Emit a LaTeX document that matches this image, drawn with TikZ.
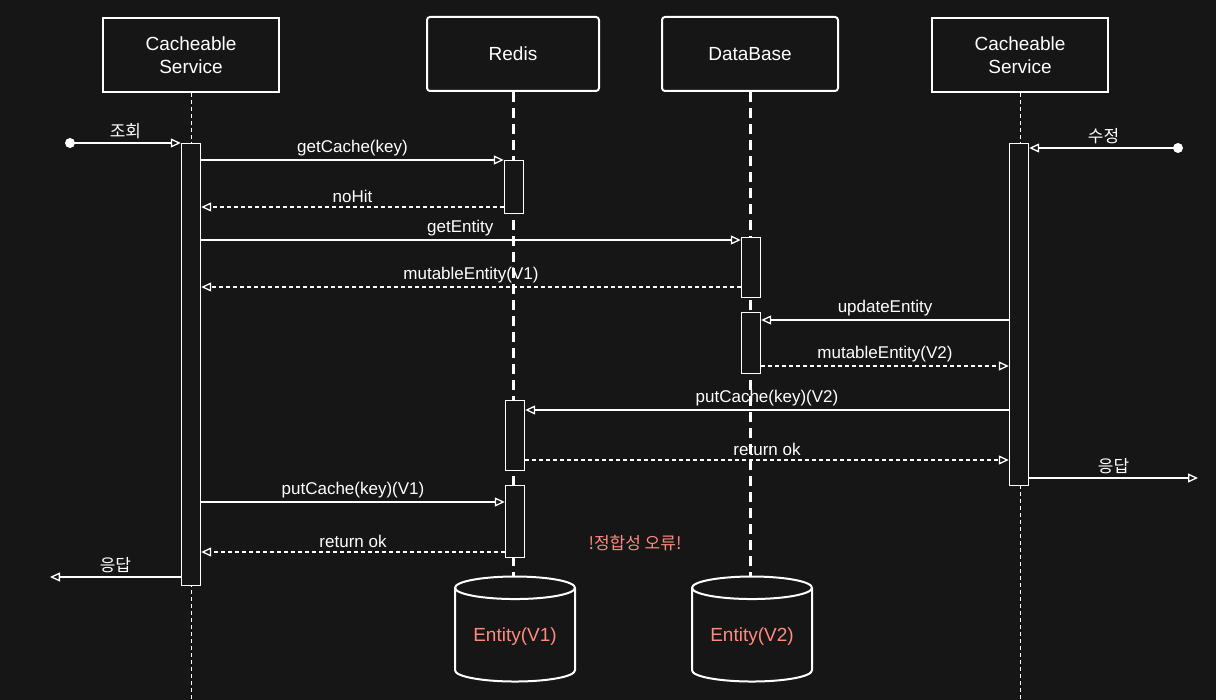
\documentclass[tikz,border=0pt]{standalone}
\usepackage{fontspec}
\setmainfont{Liberation Sans}
\newfontfamily\kr{Noto Sans CJK KR}
\usetikzlibrary{arrows.meta,shapes.geometric}
\definecolor{bg}{HTML}{161616}
\definecolor{warn}{HTML}{FF8A80}
\tikzset{
  head/.style={draw, line width=2pt, minimum width=176pt, minimum height=74pt, align=center, font=\fontsize{19}{23}\selectfont},
  act/.style={draw, line width=1.4pt, minimum width=19pt, anchor=north},
  msg/.style={line width=1.3pt, -{Triangle[open, length=10pt, width=9pt]}},
  ret/.style={msg, dash pattern=on 4pt off 3pt},
  lbl/.style={font=\fontsize{17}{20}\selectfont},
  db/.style={draw, cylinder, shape border rotate=90, aspect=0.25, line width=2pt, minimum width=120pt, minimum height=105pt, text=warn, font=\fontsize{19}{22}\selectfont}
}
\begin{document}
\begin{tikzpicture}[x=1pt, y=-1pt, white]
\fill[bg] (0,0) rectangle (1216,700);
\useasboundingbox (0,0) rectangle (1216,700);
% Heads
	\node[head] (svcA) at (191,55) {Cacheable\\Service};
	\node[head, minimum width=172pt, rounded corners=3pt] (redis) at (513,54) {Redis};
	\node[head, rounded corners=3pt] (dbase) at (750,54) {DataBase};
	\node[head] (svcB) at (1020,55) {Cacheable\\Service};
% Stores
	\node[db] (store1) at (515,637) {Entity(V1)};
	\node[db] (store2) at (752,637) {Entity(V2)};
% Lifelines
	\coordinate (endA) at (191,700);
	\coordinate (endB) at (1020,700);
	\draw[dash pattern=on 4pt off 3pt, line width=1pt] (svcA) -- (endA);
	\draw[dash pattern=on 10pt off 6pt, line width=3pt] (redis) -- (redis |- store1.north);
	\draw[dash pattern=on 10pt off 6pt, line width=3pt] (dbase) -- (dbase |- store2.north);
	\draw[dash pattern=on 4pt off 3pt, line width=1pt] (svcB) -- (endB);
% Activations
	\node[act, fill=bg, minimum height=442pt] (aA) at (191,143) {};
	\node[act, fill=bg, minimum height=53pt] (aR1) at (514,160) {};
	\node[act, fill=bg, minimum height=60pt] (aD1) at (751,237) {};
	\node[act, fill=bg, minimum height=61pt] (aD2) at (751,312) {};
	\node[act, fill=bg, minimum height=342pt] (aB) at (1019,143) {};
	\node[act, fill=bg, minimum height=70pt] (aR2) at (515,400) {};
	\node[act, fill=bg, minimum height=72pt] (aR3) at (515,485) {};
% Outer ends
	\coordinate (inA) at (70,143);
	\coordinate (inB) at (1178,148);
	\coordinate (outA) at (50,577);
	\coordinate (outB) at (1198,478);
	\fill (inA) circle (5);
	\fill (inB) circle (5);
% Messages
	\draw[msg] (inA) -- node[lbl, above] {\kr 조회} (aA.north west);
	\draw[msg] (aA.east |- 0,160) -- node[lbl, above] {getCache(key)} (aR1.west |- 0,160);
	\draw[ret] (aR1.west |- 0,207) -- node[lbl, above] {noHit} (aA.east |- 0,207);
	\draw[msg] (aA.east |- 0,240) -- node[lbl, above, pos=0.48] {getEntity} (aD1.west |- 0,240);
	\draw[ret] (aD1.west |- 0,287) -- node[lbl, above] {mutableEntity(V1)} (aA.east |- 0,287);
	\draw[msg] (inB) -- node[lbl, above] {\kr 수정} (aB.east |- 0,148);
	\draw[msg] (aB.west |- 0,320) -- node[lbl, above] {updateEntity} (aD2.east |- 0,320);
	\draw[ret] (aD2.east |- 0,366) -- node[lbl, above] {mutableEntity(V2)} (aB.west |- 0,366);
	\draw[msg] (aB.west |- 0,410) -- node[lbl, above] {putCache(key)(V2)} (aR2.east |- 0,410);
	\draw[ret] (aR2.east |- 0,460) -- node[lbl, above] {return ok} (aB.west |- 0,460);
	\draw[msg] (aB.east |- 0,478) -- node[lbl, above] {\kr 응답} (outB);
	\draw[msg] (aA.east |- 0,502) -- node[lbl, above] {putCache(key)(V1)} (aR3.west |- 0,502);
	\draw[ret] (aR3.west |- 0,552) -- node[lbl, above] {return ok} (aA.east |- 0,552);
	\draw[msg] (aA.west |- 0,577) -- node[lbl, above] {\kr 응답} (outA);
% Note
	\node[lbl, text=warn] (note) at (635,543) {\kr !정합성 오류!};
\end{tikzpicture}
\end{document}
